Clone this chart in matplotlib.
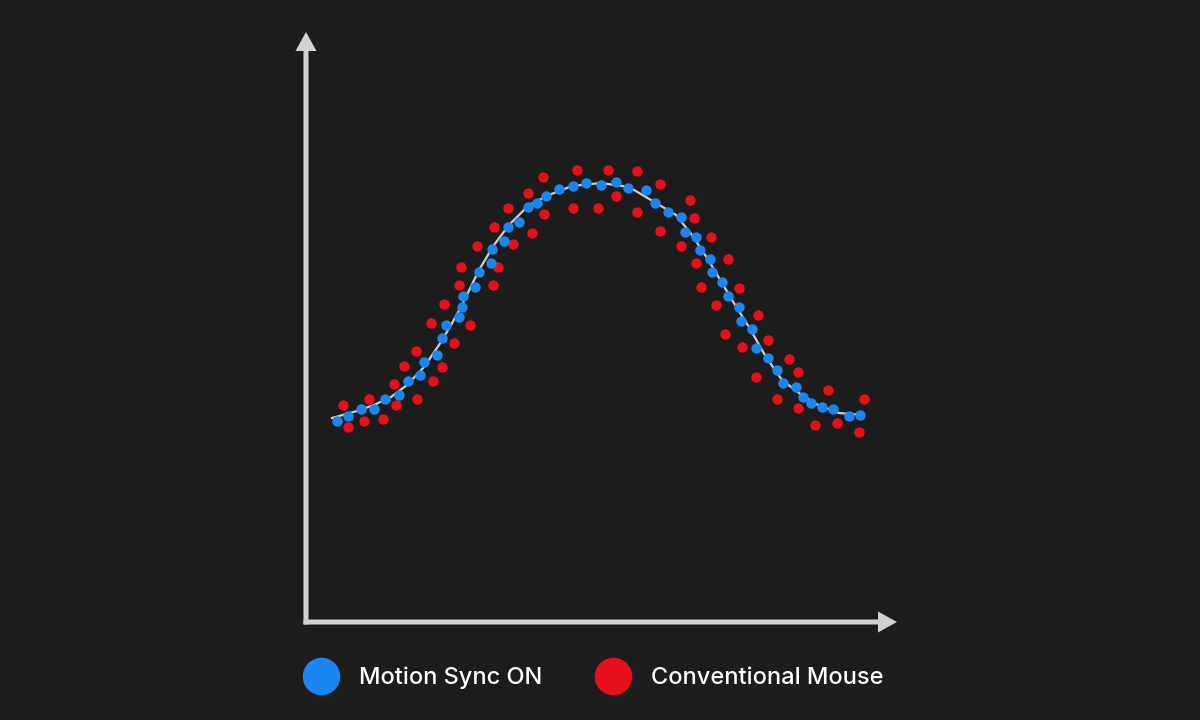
import matplotlib.pyplot as plt
from matplotlib.lines import Line2D

# --- data (arbitrary units: distance from the y axis / height above the x axis) ---
sync_x = [31, 42, 55, 68, 79, 93, 102, 114, 118, 131, 136, 140, 153, 156, 157, 169,
          173, 185, 186, 198, 202, 213, 222, 231, 240, 253, 267, 280, 295, 310, 322,
          340, 349, 362, 375, 379, 390, 394, 404, 406, 416, 422, 433, 435, 446, 450,
          462, 471, 477, 490, 497, 505, 516, 527, 543, 554]
sync_y = [201, 206, 213, 213, 223, 227, 241, 247, 260, 267, 284, 297, 305, 315, 326, 335,
          350, 359, 373, 381, 395, 400, 415, 419, 426, 433, 436, 439, 437, 440, 434,
          432, 419, 410, 405, 390, 385, 372, 363, 350, 340, 326, 315, 301, 293, 274,
          264, 252, 239, 235, 225, 219, 215, 213, 206, 207]

conv_x = [37, 42, 58, 63, 77, 88, 90, 98, 111, 110, 127, 136, 125, 148, 138, 164,
          153, 155, 187, 192, 171, 207, 188, 226, 202, 238, 222, 237, 267, 271, 292,
          302, 310, 331, 331, 354, 354, 375, 384, 388, 405, 390, 395, 410, 422, 433,
          452, 419, 462, 436, 483, 492, 450, 471, 522, 492, 531, 509, 558, 553]
conv_y = [217, 195, 201, 223, 203, 238, 217, 256, 223, 271, 241, 255, 299, 279, 318, 297,
          337, 355, 337, 355, 376, 378, 395, 389, 414, 408, 429, 445, 414, 452, 414,
          452, 426, 410, 451, 438, 391, 376, 422, 404, 385, 359, 335, 317, 363, 334,
          307, 288, 282, 275, 263, 250, 245, 223, 232, 214, 199, 197, 223, 190]

trend_x = [26, 51, 68, 85, 101, 118, 135, 145, 155, 173, 188, 203, 223, 243, 266,
           295, 323, 350, 370, 386, 403, 426, 443, 460, 476, 493, 510, 533, 556]
trend_y = [204, 211, 217, 225, 237, 255, 280, 297, 315, 352, 377, 397, 417, 427, 436,
           439, 435, 419, 407, 387, 361, 322, 295, 265, 242, 229, 218, 209, 207]

labels = ['Motion Sync ON', 'Conventional Mouse']
bg = '#1c1c1c'
blue = '#1a86f2'
red = '#e5101c'
axis_col = '#d2d2d2'

fig = plt.figure(figsize=(12, 7.2), dpi=100, facecolor=bg)
ax = fig.add_axes([0, 0, 1, 1])
ax.set_facecolor(bg)
# one data unit = one pixel in both directions
ax.set_xlim(-306, 894)
ax.set_ylim(-98, 622)
ax.axis('off')

# axes drawn as arrows
ax.arrow(0, -2.5, 0, 592.5, width=5, head_width=21, head_length=19,
         length_includes_head=True, color=axis_col, lw=0)
ax.arrow(-2.5, 0, 593.5, 0, width=5, head_width=21, head_length=19,
         length_includes_head=True, color=axis_col, lw=0)

ax.plot(trend_x, trend_y, color='#cfcfcf', lw=1.6, zorder=2)
ax.scatter(conv_x, conv_y, s=56, color=red, lw=0, zorder=3)
ax.scatter(sync_x, sync_y, s=56, color=blue, lw=0, zorder=4)

handles = [Line2D([], [], ls='none', marker='o', markersize=27, color=blue, mew=0),
           Line2D([], [], ls='none', marker='o', markersize=27, color=red, mew=0)]
leg = fig.legend(handles, labels, loc='center', bbox_to_anchor=(0.494, 0.058),
                 ncol=2, frameon=False, handlelength=1.6, handletextpad=0.8,
                 columnspacing=2.2, prop={'family': 'Inter', 'size': 17, 'weight': 'medium'})
for t in leg.get_texts():
    t.set_color('white')

fig.savefig('out.png', dpi=100, facecolor=bg)
